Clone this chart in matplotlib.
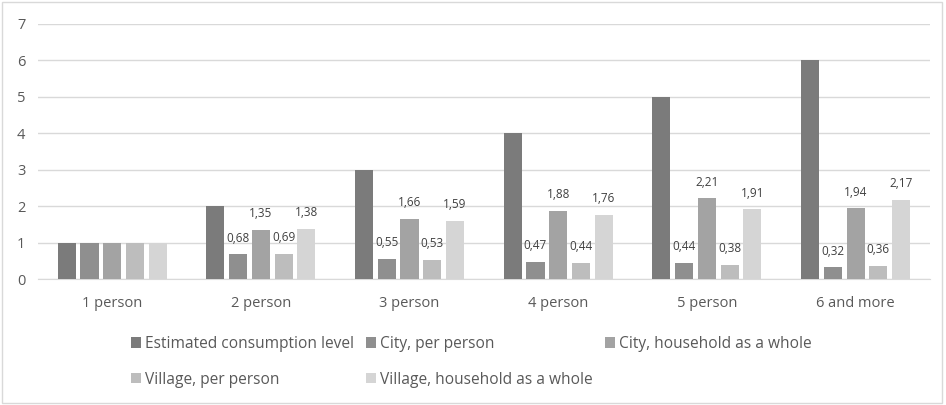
import matplotlib
matplotlib.use("Agg")
import matplotlib.pyplot as plt
from matplotlib.patches import Rectangle
import numpy as np

categories = ["1 person", "2 person", "3 person", "4 person", "5 person", "6 and more"]
series_names = ["Estimated consumption level", "City, per person", "City, household as a whole",
                "Village, per person", "Village, household as a whole"]
estimated = [1, 2, 3, 4, 5, 6]
city_pp = [1, 0.68, 0.55, 0.47, 0.44, 0.32]
city_hh = [1, 1.35, 1.66, 1.88, 2.21, 1.94]
village_pp = [1, 0.69, 0.53, 0.44, 0.38, 0.36]
village_hh = [1, 1.38, 1.59, 1.76, 1.91, 2.17]
yticks = [0, 1, 2, 3, 4, 5, 6, 7]

series = [estimated, city_pp, city_hh, village_pp, village_hh]
colors = ["#7b7b7b", "#8f8f8f", "#a3a3a3", "#bdbdbd", "#d5d5d5"]
labeled = [False, True, True, True, True]

plt.rcParams['font.family'] = ['Open Sans', 'DejaVu Sans']

fig = plt.figure(figsize=(9.46, 4.05), dpi=100)
ax = fig.add_axes([0.040, 0.311, 0.943, 0.630])

x = np.arange(len(categories))
step = 0.153
width = 0.122
handles = []
for i, (vals, name, col, lab) in enumerate(zip(series, series_names, colors, labeled)):
    pos = x + (i - 2) * step
    bars = ax.bar(pos, vals, width=width, color=col, label=name, zorder=3)
    handles.append(bars)
    if lab:
        for j, (p, v) in enumerate(zip(pos, vals)):
            if j == 0:
                continue
            ax.annotate(f"{v:.2f}".replace(".", ","), (p, v), xytext=(0, 7),
                        textcoords="offset points", ha="center", va="bottom",
                        fontsize=8.5, color="#404040")

ax.set_xlim(-0.5, len(categories) - 0.5)
ax.set_ylim(0, 7)
ax.set_yticks(yticks)
ax.set_xticks(x)
ax.set_xticklabels(categories)
ax.grid(axis="y", color="#d9d9d9", linewidth=1, zorder=0)
for s in ["top", "right", "left"]:
    ax.spines[s].set_visible(False)
ax.spines["bottom"].set_color("#d9d9d9")
ax.tick_params(axis="both", length=0, labelsize=10.5, colors="#595959")
ax.tick_params(axis="x", pad=12)
ax.tick_params(axis="y", pad=9)

order = [0, 3, 1, 4, 2]
leg = fig.legend([handles[k] for k in order], [series_names[k] for k in order],
                 ncol=3, loc="upper left", bbox_to_anchor=(0.138, 0.170),
                 frameon=False, fontsize=11.2, handlelength=0.65, handleheight=0.65,
                 handletextpad=0.25, columnspacing=0.8, labelspacing=1.25,
                 borderaxespad=0, borderpad=0)
for t in leg.get_texts():
    t.set_color("#595959")

fig.patches.append(Rectangle((0.002, 0.004), 0.994, 0.99, transform=fig.transFigure,
                             fill=False, edgecolor="#d9d9d9", linewidth=1))

fig.savefig("out.png", dpi=100)
